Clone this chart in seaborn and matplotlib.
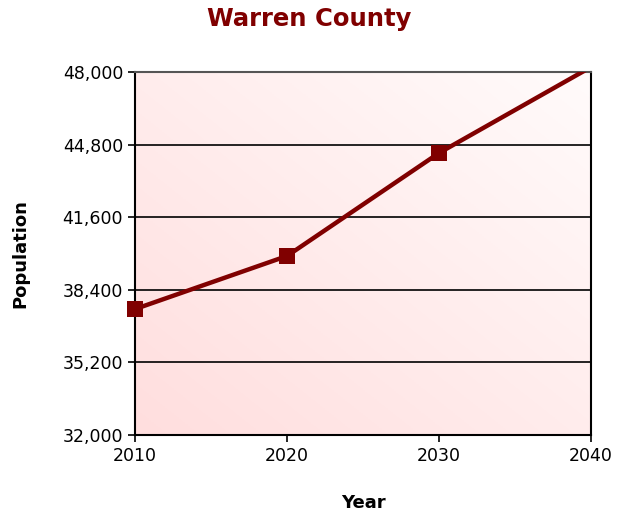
import numpy as np
import pandas as pd
import seaborn as sns
import matplotlib.pyplot as plt
from matplotlib.colors import LinearSegmentedColormap

years = [2010, 2020, 2030, 2040]
population = [37550, 39890, 44430, 48220]
yticks = [32000, 35200, 38400, 41600, 44800, 48000]

sns.set_style("white")
plt.rcParams["font.family"] = ["Verdana", "DejaVu Sans"]
plt.rcParams["text.color"] = "black"
plt.rcParams["axes.labelcolor"] = "black"
plt.rcParams["xtick.color"] = "black"
plt.rcParams["ytick.color"] = "black"

df = pd.DataFrame({"Year": years, "Population": population})

fig = plt.figure(figsize=(6.18, 5.17), dpi=100)
ax = fig.add_axes([0.2184, 0.1586, 0.7379, 0.7021])

# pink gradient, darker bottom-left, near white top-right
gx, gy = np.meshgrid(np.linspace(0, 1, 200), np.linspace(0, 1, 200))
grad = (gx + gy) / 2
cmap = LinearSegmentedColormap.from_list("pinkfade", ["#ffdede", "#fffbfb"])
ax.imshow(grad, cmap=cmap, origin="lower", extent=[0, 1, 0, 1],
          transform=ax.transAxes, aspect="auto", zorder=0)

for v in yticks[1:]:
    ax.axhline(v, color="black", lw=1.2, zorder=1)

# line clipped at the top of the plot area
sns.lineplot(data=df, x="Year", y="Population", ax=ax, color="#800000",
             lw=3.2, zorder=3)
# markers for points inside the axis range, drawn over the spines
inside = df[df["Population"] <= yticks[-1]]
sns.lineplot(data=inside, x="Year", y="Population", ax=ax, color="#800000",
             lw=0, marker="s", markersize=11, markeredgewidth=0, zorder=4,
             clip_on=False)

ax.set_xlim(2010, 2040)
ax.set_ylim(32000, 48000)
ax.set_xticks(years)
ax.set_yticks(yticks)
ax.set_yticklabels([f"{v:,}" for v in yticks])
ax.tick_params(axis="both", labelsize=12.5, length=5, width=1.2, color="black",
               direction="out", bottom=True, left=True)
for side in ["left", "bottom", "right"]:
    ax.spines[side].set_color("black")
    ax.spines[side].set_linewidth(1.5)
ax.spines["top"].set_color("#555555")
ax.spines["top"].set_linewidth(1.5)

ax.set_xlabel("Year", fontsize=13, fontweight="bold", labelpad=21)
ax.set_ylabel("Population", fontsize=13, fontweight="bold", labelpad=24)
fig.text(0.5, 0.964, "Warren County", ha="center", va="center", fontsize=17.5,
         fontweight="bold", color="#800000")

fig.savefig("out.png", dpi=100)
